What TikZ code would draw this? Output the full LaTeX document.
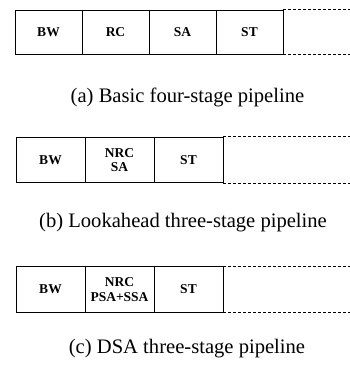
\documentclass[tikz,border=0pt]{standalone}
\usepackage{fontspec}
\setmainfont{Liberation Serif}
\usepackage{tikz}
\usetikzlibrary{shapes,arrows,calc,positioning}
\tikzstyle{stage} = [draw, rectangle, text centered, align=center, inner sep=0pt, line width=0.9pt, font=\fontsize{13.5}{14.5}\selectfont\bfseries]
\tikzstyle{wide} = [stage, minimum width=67pt, minimum height=44pt]
\tikzstyle{narrow} = [stage, minimum width=69pt, minimum height=45.5pt]
\tikzstyle{tail} = [draw, line width=0.9pt, dash pattern=on 3pt off 2pt]
\tikzstyle{caption} = [font=\fontsize{20.6}{24}\selectfont, inner sep=0pt]

\begin{document}
\begin{tikzpicture}[x=1pt, y=-1pt, node distance=67pt]
        \useasboundingbox (0,0) rectangle (350,370);
        \coordinate (edge) at (350,0);
        % (a) four stages
        \node[wide] (bwa) at (48.5,32) {BW};
        \node[wide, right of=bwa] (rca) {RC};
        \node[wide, right of=rca] (saa) {SA};
        \node[wide, right of=saa] (sta) {ST};
        \path[tail] (sta.north east) -- (sta.north east -| edge);
        \path[tail] (sta.south east) -- (sta.south east -| edge);
        \node[caption] (capa) at (187.5,97) {(a) Basic four-stage pipeline};
        % (b) lookahead
        \node[narrow] (bwb) at (50.5,160) {BW};
        \node[narrow, right of=bwb, node distance=69pt] (nrcb) {NRC\\SA};
        \node[narrow, right of=nrcb, node distance=69pt] (stb) {ST};
        \path[tail] (stb.north east) -- (stb.north east -| edge);
        \path[tail] (stb.south east) -- (stb.south east -| edge);
        \node[caption] (capb) at (183,223) {(b) Lookahead three-stage pipeline};
        % (c) DSA
        \node[narrow] (bwc) at (50.5,289.5) {BW};
        \node[narrow, right of=bwc, node distance=69pt] (nrcc) {NRC\\PSA+SSA};
        \node[narrow, right of=nrcc, node distance=69pt] (stc) {ST};
        \path[tail] (stc.north east) -- (stc.north east -| edge);
        \path[tail] (stc.south east) -- (stc.south east -| edge);
        \node[caption] (capc) at (187,349) {(c) DSA three-stage pipeline};
    \end{tikzpicture}
\end{document}
